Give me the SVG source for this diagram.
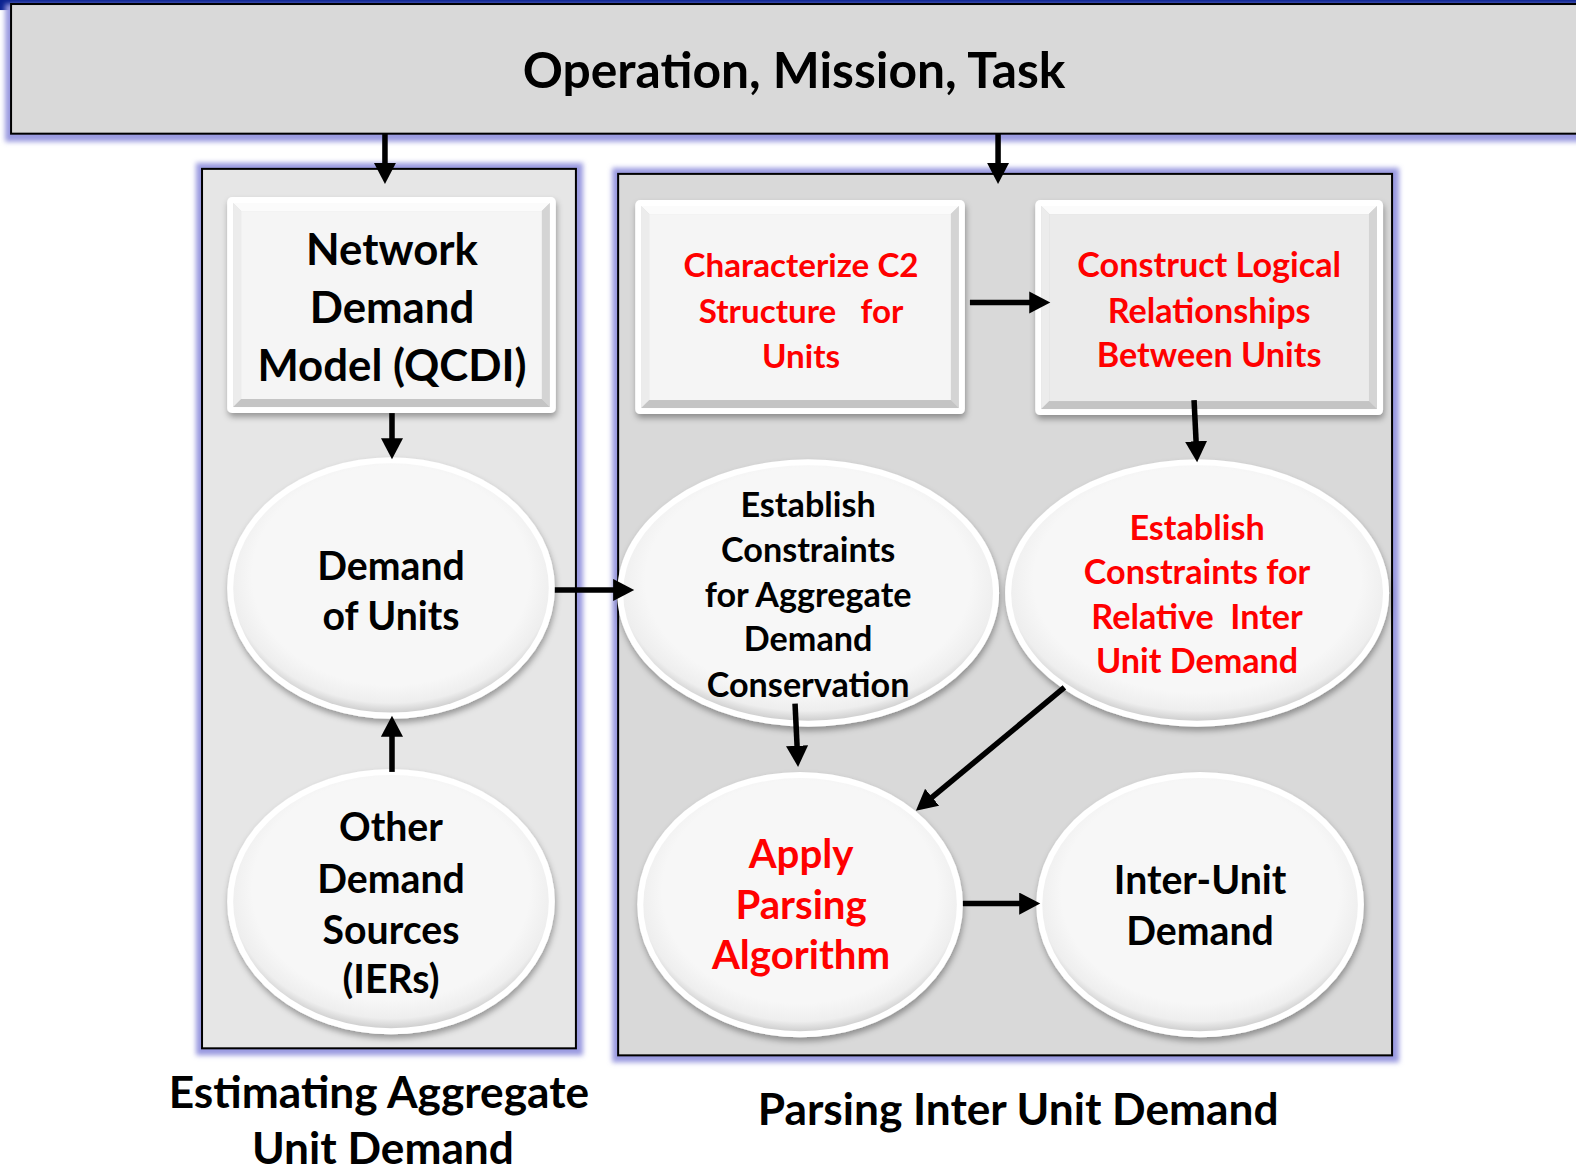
<svg xmlns="http://www.w3.org/2000/svg" width="1576" height="1170" viewBox="0 0 1576 1170">
<style>
text{font-family:Lato,"Open Sans","Liberation Sans",sans-serif;font-weight:700;text-anchor:middle}
.blk{fill:#000}
.red{fill:#ff0000}
.t49{font-size:49.5px}
.t44{font-size:44px}
.t43{font-size:43.5px}
.t40{font-size:40px}
.t39{font-size:39px}
.t33{font-size:33px}
.t34{font-size:34px}
.conn line{stroke:#000;stroke-width:5.5;marker-end:url(#ah)}
.frame{fill:#fff;filter:url(#sh)}
.face{fill:#f5f5f5}
.bt{fill:#fbfbfb}.bl{fill:#ececec}.br{fill:#d4d4d4}.bb{fill:#c4c4c4}
.eo{fill:#fff;filter:url(#sh)}
.ei{fill:url(#eg)}
.glow{fill:#9a9ae0;filter:url(#gl)}
</style>
<defs>
<marker id="ah" markerUnits="userSpaceOnUse" markerWidth="22" markerHeight="22" refX="10" refY="11" orient="auto">
<path d="M0,0 L21,11 L0,22 z" fill="#000"/>
</marker>
<filter id="sh" x="-10%" y="-10%" width="125%" height="130%">
<feDropShadow dx="1" dy="4" stdDeviation="3" flood-color="#000" flood-opacity="0.35"/>
</filter>
<filter id="gl" x="-5%" y="-5%" width="110%" height="110%">
<feGaussianBlur stdDeviation="2.5"/>
</filter>
<radialGradient id="eg" cx="50%" cy="45%" r="55%">
<stop offset="0.8" stop-color="#f7f7f7"/>
<stop offset="0.93" stop-color="#eeeeee"/>
<stop offset="1" stop-color="#cfcfcf"/>
</radialGradient>
</defs>
<rect x="0" y="0" width="1576" height="1170" fill="#fff"/>
<g transform="scale(1.0051)">
<rect x="0" y="0" width="1568" height="4" fill="#0a2290"/>
<rect x="0" y="0" width="10" height="10" fill="#0a2290"/>

<g id="top-bar">
<rect class="glow" x="5" y="4" width="1570" height="137"/>
<rect x="11" y="4" width="1558" height="129" fill="#d9d9d9" stroke="#000" stroke-width="2"/>
<text class="blk t49" x="790" y="88">Operation, Mission, Task</text>
</g>

<g id="panel-left">
<rect class="glow" x="195" y="162" width="385" height="888"/>
<rect x="201" y="168" width="372" height="875" fill="#e6e6e6" stroke="#000" stroke-width="2"/>
</g>

<g id="panel-right">
<rect class="glow" x="609" y="167" width="783" height="890"/>
<rect x="615" y="173" width="770" height="877" fill="#d9d9d9" stroke="#000" stroke-width="2"/>
</g>

<g id="network-demand-model">
<rect class="frame" x="226" y="196" width="327" height="215" rx="5"/>
<rect x="232" y="202" width="315" height="203" fill="#e0e0e0"/>
<polygon class="bt" points="232,202 547,202 539,210 240,210"/>
<polygon class="bl" points="232,202 240,210 240,397 232,405"/>
<polygon class="br" points="547,202 547,405 539,397 539,210"/>
<polygon class="bb" points="232,405 547,405 539,397 240,397"/>
<rect class="face" x="240" y="210" width="299" height="187"/>
<text class="blk t43" x="390" y="264">Network</text>
<text class="blk t43" x="390" y="321">Demand</text>
<text class="blk t43" x="390" y="379">Model (QCDI)</text>
</g>

<g id="demand-of-units">
<ellipse class="eo" cx="389" cy="585" rx="163" ry="130"/>
<ellipse class="ei" cx="389" cy="585" rx="157" ry="124"/>
<text class="blk t39" x="389" y="577">Demand</text>
<text class="blk t39" x="389" y="627">of Units</text>
</g>

<g id="other-demand-sources">
<ellipse class="eo" cx="389" cy="897" rx="163" ry="132"/>
<ellipse class="ei" cx="389" cy="897" rx="157" ry="126"/>
<text class="blk t39" x="389" y="837">Other</text>
<text class="blk t39" x="389" y="888">Demand</text>
<text class="blk t39" x="389" y="939">Sources</text>
<text class="blk t39" x="389" y="988">(IERs)</text>
</g>

<g id="characterize-c2">
<rect class="frame" x="632" y="199" width="328" height="213" rx="5"/>
<rect x="638" y="205" width="316" height="201" fill="#e0e0e0"/>
<polygon class="bt" points="638,205 954,205 946,213 646,213"/>
<polygon class="bl" points="638,205 646,213 646,398 638,406"/>
<polygon class="br" points="954,205 954,406 946,398 946,213"/>
<polygon class="bb" points="638,406 954,406 946,398 646,398"/>
<rect class="face" x="646" y="213" width="300" height="185"/>
<text class="red t33" x="797" y="276">Characterize C2</text>
<text class="red t33" x="797" y="321" xml:space="preserve">Structure   for</text>
<text class="red t33" x="797" y="366">Units</text>
</g>

<g id="construct-logical">
<rect class="frame" x="1030" y="199" width="346" height="214" rx="5"/>
<rect x="1036" y="205" width="334" height="202" fill="#d8d8d8"/>
<polygon class="bt" points="1036,205 1370,205 1362,213 1044,213"/>
<polygon class="bl" points="1036,205 1044,213 1044,399 1036,407"/>
<polygon class="br" points="1370,205 1370,407 1362,399 1362,213"/>
<polygon class="bb" points="1036,407 1370,407 1362,399 1044,399"/>
<rect x="1044" y="213" width="318" height="186" fill="#ebebeb"/>
<text class="red t34" x="1203" y="276">Construct Logical</text>
<text class="red t34" x="1203" y="321">Relationships</text>
<text class="red t34" x="1203" y="365">Between Units</text>
</g>

<g id="constraints-aggregate">
<ellipse class="eo" cx="804" cy="590" rx="190" ry="133"/>
<ellipse class="ei" cx="804" cy="590" rx="184" ry="127"/>
<text class="blk t34" x="804" y="514">Establish</text>
<text class="blk t34" x="804" y="559">Constraints</text>
<text class="blk t34" x="804" y="604">for Aggregate</text>
<text class="blk t34" x="804" y="648">Demand</text>
<text class="blk t34" x="804" y="693">Conservation</text>
</g>

<g id="constraints-relative">
<ellipse class="eo" cx="1191" cy="590" rx="191" ry="133"/>
<ellipse class="ei" cx="1191" cy="590" rx="185" ry="127"/>
<text class="red t34" x="1191" y="537">Establish</text>
<text class="red t34" x="1191" y="581">Constraints for</text>
<text class="red t34" x="1191" y="626" xml:space="preserve">Relative  Inter</text>
<text class="red t34" x="1191" y="670">Unit Demand</text>
</g>

<g id="apply-parsing">
<ellipse class="eo" cx="796" cy="900" rx="162" ry="132"/>
<ellipse class="ei" cx="796" cy="900" rx="156" ry="126"/>
<text class="red t40" x="797" y="864">Apply</text>
<text class="red t40" x="797" y="914">Parsing</text>
<text class="red t40" x="797" y="964">Algorithm</text>
</g>

<g id="inter-unit-demand">
<ellipse class="eo" cx="1194" cy="900" rx="163" ry="132"/>
<ellipse class="ei" cx="1194" cy="900" rx="157" ry="126"/>
<text class="blk t39" x="1194" y="889">Inter-Unit</text>
<text class="blk t39" x="1194" y="940">Demand</text>
</g>

<g id="label-left">
<text class="blk t44" x="377" y="1102">Estimating Aggregate</text>
<text class="blk t44" x="381" y="1158">Unit Demand</text>
</g>
<g id="label-right">
<text class="blk t44" x="1013" y="1119">Parsing Inter Unit Demand</text>
</g>

<g id="connectors" class="conn">
<line x1="383" y1="133" x2="383" y2="172"/>
<line x1="993" y1="133" x2="993" y2="172"/>
<line x1="390" y1="411" x2="390" y2="446"/>
<line x1="390" y1="768" x2="390" y2="723"/>
<line x1="552" y1="587" x2="620" y2="587"/>
<line x1="965" y1="301" x2="1034" y2="301"/>
<line x1="1188" y1="398" x2="1190.5" y2="449"/>
<line x1="791" y1="700" x2="793.5" y2="752"/>
<line x1="1059" y1="684" x2="919.7" y2="799.6"/>
<line x1="958" y1="899" x2="1024" y2="899"/>
</g>
</g>
</svg>
